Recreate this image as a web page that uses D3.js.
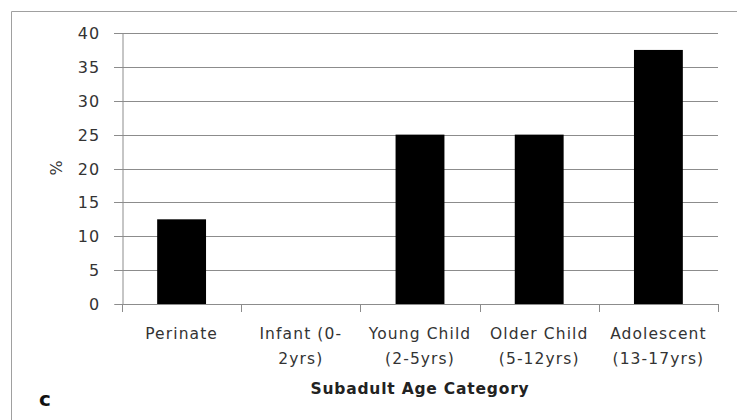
<!DOCTYPE html>
<html>
<head>
<meta charset="utf-8">
<script src="https://cdn.jsdelivr.net/npm/d3@7"></script>
<style>
  html, body { margin: 0; padding: 0; background: #fff; }
  svg { display: block; }
</style>
</head>
<body>
<svg id="chart" width="737" height="420"></svg>
<script>
const categories = ["Perinate", "Infant (0-2yrs)", "Young Child (2-5yrs)", "Older Child (5-12yrs)", "Adolescent (13-17yrs)"];
const categoryLines = [["Perinate"], ["Infant (0-", "2yrs)"], ["Young Child", "(2-5yrs)"], ["Older Child", "(5-12yrs)"], ["Adolescent", "(13-17yrs)"]];
const values = [12.5, 0, 25, 25, 37.5];
const yTicks = [0, 5, 10, 15, 20, 25, 30, 35, 40];
const xTitle = "Subadult Age Category";
const yTitle = "%";
const panelLabel = "c";

const svg = d3.select("#chart");
const font = "'DejaVu Sans', Verdana, sans-serif";

// outer frame (left and top visible)
svg.append("path")
  .attr("d", "M11.5,420 V11.5 H737")
  .attr("fill", "none").attr("stroke", "#a0a0a0").attr("stroke-width", 1);

const m = { left: 122, right: 718, top: 33, bottom: 304 };
const x = d3.scaleBand().domain(categories).range([m.left, m.right]).paddingInner(0.59).paddingOuter(0.295);
const xb = d3.scaleBand().domain(categories).range([m.left, m.right]).padding(0);
const y = d3.scaleLinear().domain([0, 40]).range([m.bottom, m.top]);

// gridlines
svg.append("g").selectAll("line").data(yTicks.filter(d => d > 0)).join("line")
  .attr("x1", m.left - 8).attr("x2", m.right)
  .attr("y1", d => Math.round(y(d)) + 0.5).attr("y2", d => Math.round(y(d)) + 0.5)
  .attr("stroke", "#8c8c8c").attr("stroke-width", 1);

// y axis
const yAxis = d3.axisLeft(y).tickValues(yTicks).tickSize(8).tickPadding(14);
const gy = svg.append("g").attr("transform", `translate(${m.left + 0.5},0)`).call(yAxis);
gy.select(".domain").attr("stroke", "#8c8c8c");
gy.selectAll(".tick line").attr("stroke", "#8c8c8c");
gy.selectAll(".tick").attr("transform", d => `translate(0,${Math.round(y(d)) + 0.5})`);
gy.selectAll(".tick text").attr("font-family", font).attr("font-size", 16).attr("fill", "#333").attr("letter-spacing", 1.2);

// bars
svg.append("g").selectAll("rect").data(values).join("rect")
  .attr("x", (d, i) => x(categories[i]))
  .attr("width", x.bandwidth())
  .attr("y", d => y(d))
  .attr("height", d => y(0) - y(d))
  .attr("fill", "#000");

// x axis line and boundary ticks
svg.append("line").attr("x1", m.left).attr("x2", m.right)
  .attr("y1", m.bottom + 0.5).attr("y2", m.bottom + 0.5).attr("stroke", "#8c8c8c");
const bounds = categories.map(c => xb(c)).concat([m.right]);
svg.append("g").selectAll("line").data(bounds).join("line")
  .attr("x1", d => Math.round(d) + 0.5).attr("x2", d => Math.round(d) + 0.5)
  .attr("y1", m.bottom).attr("y2", m.bottom + 8)
  .attr("stroke", "#8c8c8c");

// category labels
const lab = svg.append("g").selectAll("text").data(categories).join("text")
  .attr("x", c => xb(c) + xb.bandwidth() / 2)
  .attr("y", 339)
  .attr("text-anchor", "middle")
  .attr("font-family", font).attr("font-size", 15.5).attr("fill", "#333").attr("letter-spacing", 1.1);
lab.each(function(c, i) {
  d3.select(this).selectAll("tspan").data(categoryLines[i]).join("tspan")
    .attr("x", xb(c) + xb.bandwidth() / 2)
    .attr("dy", (d, j) => j === 0 ? 0 : 25)
    .text(d => d);
});

// axis titles
svg.append("text").attr("x", (m.left + m.right) / 2).attr("y", 394)
  .attr("text-anchor", "middle").attr("font-family", font).attr("font-size", 15.5)
  .attr("font-weight", "bold").attr("fill", "#222").attr("letter-spacing", 0.8).text(xTitle);

svg.append("text").attr("transform", "translate(62,168) rotate(-90)")
  .attr("text-anchor", "middle").attr("font-family", font).attr("font-size", 16)
  .attr("fill", "#333").text(yTitle);

svg.append("text").attr("x", 39).attr("y", 406)
  .attr("font-family", font).attr("font-size", 20).attr("font-weight", "bold")
  .attr("fill", "#111").text(panelLabel);
</script>
</body>
</html>
